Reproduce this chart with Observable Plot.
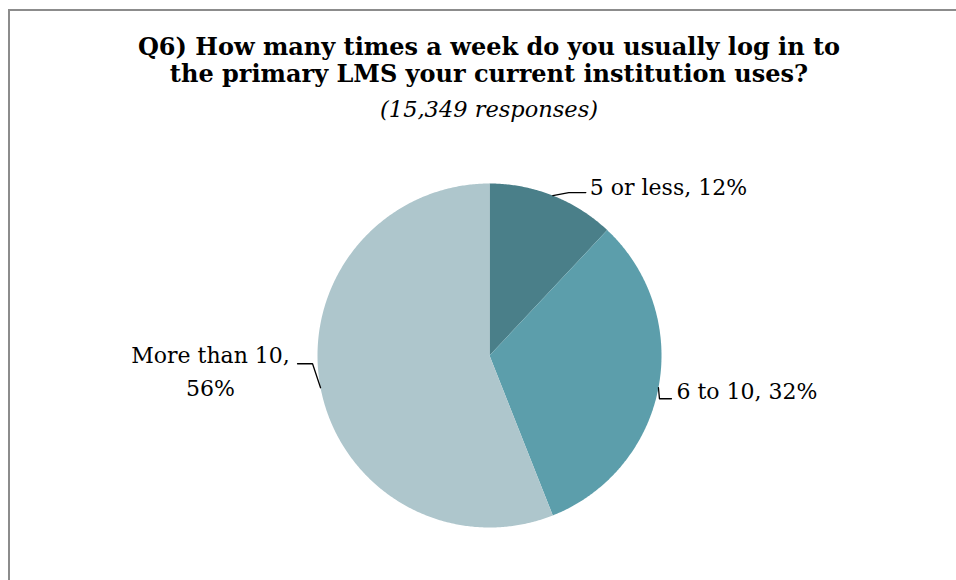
<!DOCTYPE html>
<html>
<head>
<meta charset="utf-8">
<script src="https://cdn.jsdelivr.net/npm/d3@7"></script>
<script src="https://cdn.jsdelivr.net/npm/@observablehq/plot@0.6"></script>
<style>
  html, body { margin: 0; padding: 0; background: #fff; }
  #wrap { position: relative; width: 956px; height: 580px; overflow: hidden; background: #fff; }
  #frame { position: absolute; left: 8px; top: 9px; width: 1100px; height: 1100px; border: 2px solid #8c8c8c; box-sizing: border-box; }
  #title { position: absolute; left: 22px; width: 934px; top: 33px; text-align: center; font-family: "DejaVu Serif", serif; color: #000; }
  #title .t { font-weight: bold; font-size: 24px; line-height: 27px; white-space: nowrap; }
  #title .s { font-style: italic; font-size: 22.5px; line-height: 30px; margin-top: 7px; }
  #chart { position: absolute; left: 0; top: 0; }
</style>
</head>
<body>
<div id="wrap">
  <div id="frame"></div>
  <div id="chart"></div>
  <div id="title"></div>
</div>
<script>
// ---- data ----
const categories = ["5 or less", "6 to 10", "More than 10"];
const percents = [12, 32, 56];
const labelTexts = ["5 or less, 12%", "6 to 10, 32%", "More than 10,\n56%"];
const colors = ["#4a7f89", "#5c9eab", "#aec6cc"];
const titleLines = ["Q6) How many times a week do you usually log in to", "the primary LMS your current institution uses?"];
const subtitle = "(15,349 responses)";

// ---- title ----
const tdiv = document.getElementById("title");
tdiv.innerHTML = titleLines.map(l => `<div class="t">${l}</div>`).join("") + `<div class="s">${subtitle}</div>`;

// ---- layout ----
const W = 956, H = 580, cx = 489, cy = 355, k = 172; // px per unit radius
const pie = d3.pie().sort(null).value(d => d.value)(categories.map((c, i) => ({cat: c, value: percents[i]})));

const polys = [];
pie.forEach(s => {
  polys.push({cat: s.data.cat, x: 0, y: 0});
  const n = Math.max(2, Math.ceil((s.endAngle - s.startAngle) / (Math.PI / 360)));
  for (let j = 0; j <= n; j++) {
    const a = s.startAngle + (s.endAngle - s.startAngle) * j / n;
    polys.push({cat: s.data.cat, x: Math.sin(a), y: Math.cos(a)});
  }
});

// leader offsets in px (x right, y down) relative to the slice's mid-edge point
const leaderOffsets = [
  [[0, 0], [16, -3], [33, -3]],
  [[0, 0], [1, 11], [13, 11]],
  [[0, 0], [-8, -24], [-23, -24]]
];
const textOffsets = [[37, -8], [18, 4], [-110, -19]];
const textAnchors = ["start", "start", "middle"];

const leaders = [], labels = [];
pie.forEach((s, i) => {
  const a = (s.startAngle + s.endAngle) / 2;
  const ex = Math.sin(a), ey = Math.cos(a);
  leaderOffsets[i].forEach(([dx, dy]) => leaders.push({cat: s.data.cat, x: ex + dx / k, y: ey - dy / k}));
  labels.push({cat: s.data.cat, text: labelTexts[i], anchor: textAnchors[i],
    x: ex + textOffsets[i][0] / k, y: ey - textOffsets[i][1] / k});
});

const chart = Plot.plot({
  width: W, height: H,
  margin: 0,
  x: {domain: [-cx / k, (W - cx) / k], axis: null},
  y: {domain: [-(H - cy) / k, cy / k], axis: null},
  color: {domain: categories, range: colors},
  style: {background: "transparent"},
  marks: [
    Plot.line(polys, {x: "x", y: "y", z: "cat", fill: "cat", stroke: null, curve: "linear-closed"}),
    Plot.line(leaders, {x: "x", y: "y", z: "cat", stroke: "#000", strokeWidth: 1.3}),
    Plot.text(labels.filter(d => d.anchor === "start"), {x: "x", y: "y", text: "text", textAnchor: "start", lineAnchor: "middle", fontSize: 22, fontFamily: "DejaVu Serif", fill: "#000"}),
    Plot.text(labels.filter(d => d.anchor === "middle"), {x: "x", y: "y", text: "text", textAnchor: "middle", lineAnchor: "middle", lineHeight: 1.5, fontSize: 22, fontFamily: "DejaVu Serif", fill: "#000"})
  ]
});
document.getElementById("chart").appendChild(chart);
</script>
</body>
</html>
